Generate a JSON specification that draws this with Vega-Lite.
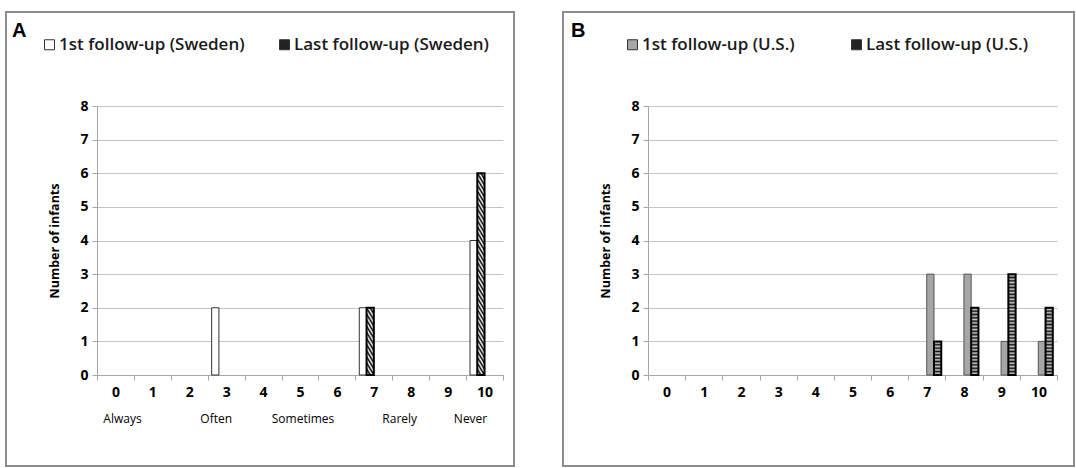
{
"$schema": "https://vega.github.io/schema/vega-lite/v6.json",
"padding": {"left": 5, "top": 11, "right": 0, "bottom": 0},
"background": "white",
"spacing": 47,
"resolve": {"scale": {"fill": "independent"}, "legend": {"fill": "independent"}},
"config": {
  "view": {"stroke": "#8c8c8c", "strokeWidth": 2},
  "axis": {"labelFont": "Open Sans", "titleFont": "Open Sans", "labelColor": "#000", "titleColor": "#000", "domainColor": "#a6a6a6", "tickColor": "#a6a6a6", "gridColor": "#c4c4c4", "tickSize": 5, "labelFontSize": 14, "labelFontWeight": "bold"},
  "legend": {"labelFont": "Open Sans", "labelFontSize": 17, "labelFontWeight": 600, "labelLimit": 400, "labelColor": "#1a1a1a", "symbolType": "square", "symbolSize": 100, "symbolStrokeColor": "#333", "symbolStrokeWidth": 1, "labelOffset": 1, "padding": 0}
},
"datasets": {
  "sweden": [
    {"score": 3, "series": "1st follow-up (Sweden)", "value": 2},
    {"score": 7, "series": "1st follow-up (Sweden)", "value": 2},
    {"score": 10, "series": "1st follow-up (Sweden)", "value": 4},
    {"score": 7, "series": "Last follow-up (Sweden)", "value": 2},
    {"score": 10, "series": "Last follow-up (Sweden)", "value": 6}
  ],
  "us": [
    {"score": 7, "series": "1st follow-up (U.S.)", "value": 3},
    {"score": 8, "series": "1st follow-up (U.S.)", "value": 3},
    {"score": 9, "series": "1st follow-up (U.S.)", "value": 1},
    {"score": 10, "series": "1st follow-up (U.S.)", "value": 1},
    {"score": 7, "series": "Last follow-up (U.S.)", "value": 1},
    {"score": 8, "series": "Last follow-up (U.S.)", "value": 2},
    {"score": 9, "series": "Last follow-up (U.S.)", "value": 3},
    {"score": 10, "series": "Last follow-up (U.S.)", "value": 2}
  ]
},
"hconcat": [
{
  "width": 508, "height": 454,
  "title": {"text": "A", "anchor": "start", "frame": "group", "offset": -29, "dx": 6, "font": "Liberation Sans", "fontSize": 20, "fontWeight": "bold", "color": "#000"},
  "data": {"name": "sweden"},
  "resolve": {"axis": {"x": "independent"}},
  "layer": [
    {
      "mark": {"type": "bar"},
      "encoding": {
        "x": {"field": "score", "type": "ordinal", "scale": {"domain": [0,1,2,3,4,5,6,7,8,9,10], "range": [91, 497], "paddingInner": 0, "paddingOuter": 0},
              "axis": {"orient": "bottom", "title": null, "labelAngle": 0, "labelPadding": 5, "tickBand": "extent", "grid": false, "offset": -91}},
        "xOffset": {"field": "series", "type": "nominal", "scale": {"domain": ["1st follow-up (Sweden)", "Last follow-up (Sweden)"], "paddingInner": 0, "paddingOuter": 0.54}},
        "y": {"field": "value", "type": "quantitative", "scale": {"domain": [0, 8], "range": [363, 94], "nice": false},
              "axis": {"values": [0,1,2,3,4,5,6,7,8], "title": "Number of infants", "titleFontSize": 12.5, "titleFontWeight": "bold", "titlePadding": 18, "labelPadding": 4, "grid": true, "offset": -91}},
        "fill": {"field": "series", "type": "nominal",
          "scale": {"domain": ["1st follow-up (Sweden)", "Last follow-up (Sweden)"], "range": ["#ffffff", "#222222"]},
          "legend": {"orient": "none", "legendX": 35, "legendY": 24, "direction": "horizontal", "title": null, "columnPadding": 31},
          "condition": [
            {"test": "datum.series == 'Last follow-up (Sweden)' && datum.value == 2",
             "value": {"gradient": "linear", "x1": 0, "y1": 1, "x2": 0.2038, "y2": -0.1421, "stops": [
               {"offset":0,"color":"#000"},{"offset":0.0385,"color":"#fff"},{"offset":0.0769,"color":"#000"},{"offset":0.1154,"color":"#fff"},{"offset":0.1538,"color":"#000"},{"offset":0.1923,"color":"#fff"},{"offset":0.2308,"color":"#000"},{"offset":0.2692,"color":"#fff"},{"offset":0.3077,"color":"#000"},{"offset":0.3462,"color":"#fff"},{"offset":0.3846,"color":"#000"},{"offset":0.4231,"color":"#fff"},{"offset":0.4615,"color":"#000"},{"offset":0.5,"color":"#fff"},{"offset":0.5385,"color":"#000"},{"offset":0.5769,"color":"#fff"},{"offset":0.6154,"color":"#000"},{"offset":0.6538,"color":"#fff"},{"offset":0.6923,"color":"#000"},{"offset":0.7308,"color":"#fff"},{"offset":0.7692,"color":"#000"},{"offset":0.8077,"color":"#fff"},{"offset":0.8462,"color":"#000"},{"offset":0.8846,"color":"#fff"},{"offset":0.9231,"color":"#000"},{"offset":0.9615,"color":"#fff"},{"offset":1,"color":"#000"}]}},
            {"test": "datum.series == 'Last follow-up (Sweden)' && datum.value == 6",
             "value": {"gradient": "linear", "x1": 0, "y1": 1, "x2": 0.0628, "y2": -0.0557, "stops": [
               {"offset":0,"color":"#000"},{"offset":0.0139,"color":"#fff"},{"offset":0.0278,"color":"#000"},{"offset":0.0417,"color":"#fff"},{"offset":0.0556,"color":"#000"},{"offset":0.0694,"color":"#fff"},{"offset":0.0833,"color":"#000"},{"offset":0.0972,"color":"#fff"},{"offset":0.1111,"color":"#000"},{"offset":0.125,"color":"#fff"},{"offset":0.1389,"color":"#000"},{"offset":0.1528,"color":"#fff"},{"offset":0.1667,"color":"#000"},{"offset":0.1806,"color":"#fff"},{"offset":0.1944,"color":"#000"},{"offset":0.2083,"color":"#fff"},{"offset":0.2222,"color":"#000"},{"offset":0.2361,"color":"#fff"},{"offset":0.25,"color":"#000"},{"offset":0.2639,"color":"#fff"},{"offset":0.2778,"color":"#000"},{"offset":0.2917,"color":"#fff"},{"offset":0.3056,"color":"#000"},{"offset":0.3194,"color":"#fff"},{"offset":0.3333,"color":"#000"},{"offset":0.3472,"color":"#fff"},{"offset":0.3611,"color":"#000"},{"offset":0.375,"color":"#fff"},{"offset":0.3889,"color":"#000"},{"offset":0.4028,"color":"#fff"},{"offset":0.4167,"color":"#000"},{"offset":0.4306,"color":"#fff"},{"offset":0.4444,"color":"#000"},{"offset":0.4583,"color":"#fff"},{"offset":0.4722,"color":"#000"},{"offset":0.4861,"color":"#fff"},{"offset":0.5,"color":"#000"},{"offset":0.5139,"color":"#fff"},{"offset":0.5278,"color":"#000"},{"offset":0.5417,"color":"#fff"},{"offset":0.5556,"color":"#000"},{"offset":0.5694,"color":"#fff"},{"offset":0.5833,"color":"#000"},{"offset":0.5972,"color":"#fff"},{"offset":0.6111,"color":"#000"},{"offset":0.625,"color":"#fff"},{"offset":0.6389,"color":"#000"},{"offset":0.6528,"color":"#fff"},{"offset":0.6667,"color":"#000"},{"offset":0.6806,"color":"#fff"},{"offset":0.6944,"color":"#000"},{"offset":0.7083,"color":"#fff"},{"offset":0.7222,"color":"#000"},{"offset":0.7361,"color":"#fff"},{"offset":0.75,"color":"#000"},{"offset":0.7639,"color":"#fff"},{"offset":0.7778,"color":"#000"},{"offset":0.7917,"color":"#fff"},{"offset":0.8056,"color":"#000"},{"offset":0.8194,"color":"#fff"},{"offset":0.8333,"color":"#000"},{"offset":0.8472,"color":"#fff"},{"offset":0.8611,"color":"#000"},{"offset":0.875,"color":"#fff"},{"offset":0.8889,"color":"#000"},{"offset":0.9028,"color":"#fff"},{"offset":0.9167,"color":"#000"},{"offset":0.9306,"color":"#fff"},{"offset":0.9444,"color":"#000"},{"offset":0.9583,"color":"#fff"},{"offset":0.9722,"color":"#000"},{"offset":0.9861,"color":"#fff"},{"offset":1,"color":"#000"}]}}
          ]
        },
        "stroke": {"condition": {"test": "datum.series == 'Last follow-up (Sweden)'", "value": "#000"}, "value": "#333"},
        "strokeWidth": {"condition": {"test": "datum.series == 'Last follow-up (Sweden)'", "value": 2}, "value": 1}
      }
    },
    {
      "mark": {"type": "bar", "opacity": 0},
      "encoding": {
        "x": {"field": "score", "type": "ordinal", "scale": {"domain": [0,1,2,3,4,5,6,7,8,9,10], "range": [91, 497], "paddingInner": 0, "paddingOuter": 0},
              "axis": {"orient": "bottom", "title": null, "values": [0,3,5,8,10], "labelExpr": "datum.value == 0 ? 'Always' : datum.value == 3 ? 'Often' : datum.value == 5 ? 'Sometimes' : datum.value == 8 ? 'Rarely' : 'Never'",
                       "domain": false, "ticks": false, "grid": false, "labelAngle": 0, "labelFontSize": 12, "labelFontWeight": "normal", "labelPadding": 38, "offset": -91,
                       "labelOffset": {"condition": [{"test": "datum.value == 0", "value": 7}, {"test": "datum.value == 3", "value": -10}, {"test": "datum.value == 5", "value": 3}, {"test": "datum.value == 8", "value": -11}], "value": -14}}}
      }
    }
  ]
},
{
  "width": 511, "height": 454,
  "title": {"text": "B", "anchor": "start", "frame": "group", "offset": -29, "dx": 8, "font": "Liberation Sans", "fontSize": 20, "fontWeight": "bold", "color": "#000"},
  "data": {"name": "us"},
  "mark": {"type": "bar"},
  "encoding": {
    "x": {"field": "score", "type": "ordinal", "scale": {"domain": [0,1,2,3,4,5,6,7,8,9,10], "range": [85, 494], "paddingInner": 0, "paddingOuter": 0},
          "axis": {"orient": "bottom", "title": null, "labelAngle": 0, "labelPadding": 5, "tickBand": "extent", "grid": false, "offset": -91}},
    "xOffset": {"field": "series", "type": "nominal", "scale": {"domain": ["1st follow-up (U.S.)", "Last follow-up (U.S.)"], "paddingInner": 0, "paddingOuter": 0.54}},
    "y": {"field": "value", "type": "quantitative", "scale": {"domain": [0, 8], "range": [363, 94], "nice": false},
          "axis": {"values": [0,1,2,3,4,5,6,7,8], "title": "Number of infants", "titleFontSize": 12.5, "titleFontWeight": "bold", "titlePadding": 18, "labelPadding": 4, "grid": true, "offset": -85}},
    "fill": {"field": "series", "type": "nominal",
      "scale": {"domain": ["1st follow-up (U.S.)", "Last follow-up (U.S.)"], "range": ["#a6a6a6", "#222222"]},
      "legend": {"orient": "none", "legendX": 61, "legendY": 24, "direction": "horizontal", "title": null, "columnPadding": 53},
      "condition": [
        {"test": "datum.series == 'Last follow-up (U.S.)' && datum.value == 1",
         "value": {"gradient": "linear", "x1": 0, "y1": 0, "x2": 0, "y2": 1, "stops": [
           {"offset":0,"color":"#111"},{"offset":0.05,"color":"#ccc"},{"offset":0.1,"color":"#111"},{"offset":0.15,"color":"#ccc"},{"offset":0.2,"color":"#111"},{"offset":0.25,"color":"#ccc"},{"offset":0.3,"color":"#111"},{"offset":0.35,"color":"#ccc"},{"offset":0.4,"color":"#111"},{"offset":0.45,"color":"#ccc"},{"offset":0.5,"color":"#111"},{"offset":0.55,"color":"#ccc"},{"offset":0.6,"color":"#111"},{"offset":0.65,"color":"#ccc"},{"offset":0.7,"color":"#111"},{"offset":0.75,"color":"#ccc"},{"offset":0.8,"color":"#111"},{"offset":0.85,"color":"#ccc"},{"offset":0.9,"color":"#111"},{"offset":0.95,"color":"#ccc"},{"offset":1,"color":"#111"}]}},
        {"test": "datum.series == 'Last follow-up (U.S.)' && datum.value == 2",
         "value": {"gradient": "linear", "x1": 0, "y1": 0, "x2": 0, "y2": 1, "stops": [
           {"offset":0,"color":"#111"},{"offset":0.025,"color":"#ccc"},{"offset":0.05,"color":"#111"},{"offset":0.075,"color":"#ccc"},{"offset":0.1,"color":"#111"},{"offset":0.125,"color":"#ccc"},{"offset":0.15,"color":"#111"},{"offset":0.175,"color":"#ccc"},{"offset":0.2,"color":"#111"},{"offset":0.225,"color":"#ccc"},{"offset":0.25,"color":"#111"},{"offset":0.275,"color":"#ccc"},{"offset":0.3,"color":"#111"},{"offset":0.325,"color":"#ccc"},{"offset":0.35,"color":"#111"},{"offset":0.375,"color":"#ccc"},{"offset":0.4,"color":"#111"},{"offset":0.425,"color":"#ccc"},{"offset":0.45,"color":"#111"},{"offset":0.475,"color":"#ccc"},{"offset":0.5,"color":"#111"},{"offset":0.525,"color":"#ccc"},{"offset":0.55,"color":"#111"},{"offset":0.575,"color":"#ccc"},{"offset":0.6,"color":"#111"},{"offset":0.625,"color":"#ccc"},{"offset":0.65,"color":"#111"},{"offset":0.675,"color":"#ccc"},{"offset":0.7,"color":"#111"},{"offset":0.725,"color":"#ccc"},{"offset":0.75,"color":"#111"},{"offset":0.775,"color":"#ccc"},{"offset":0.8,"color":"#111"},{"offset":0.825,"color":"#ccc"},{"offset":0.85,"color":"#111"},{"offset":0.875,"color":"#ccc"},{"offset":0.9,"color":"#111"},{"offset":0.925,"color":"#ccc"},{"offset":0.95,"color":"#111"},{"offset":0.975,"color":"#ccc"},{"offset":1,"color":"#111"}]}},
        {"test": "datum.series == 'Last follow-up (U.S.)' && datum.value == 3",
         "value": {"gradient": "linear", "x1": 0, "y1": 0, "x2": 0, "y2": 1, "stops": [
           {"offset":0,"color":"#111"},{"offset":0.0167,"color":"#ccc"},{"offset":0.0333,"color":"#111"},{"offset":0.05,"color":"#ccc"},{"offset":0.0667,"color":"#111"},{"offset":0.0833,"color":"#ccc"},{"offset":0.1,"color":"#111"},{"offset":0.1167,"color":"#ccc"},{"offset":0.1333,"color":"#111"},{"offset":0.15,"color":"#ccc"},{"offset":0.1667,"color":"#111"},{"offset":0.1833,"color":"#ccc"},{"offset":0.2,"color":"#111"},{"offset":0.2167,"color":"#ccc"},{"offset":0.2333,"color":"#111"},{"offset":0.25,"color":"#ccc"},{"offset":0.2667,"color":"#111"},{"offset":0.2833,"color":"#ccc"},{"offset":0.3,"color":"#111"},{"offset":0.3167,"color":"#ccc"},{"offset":0.3333,"color":"#111"},{"offset":0.35,"color":"#ccc"},{"offset":0.3667,"color":"#111"},{"offset":0.3833,"color":"#ccc"},{"offset":0.4,"color":"#111"},{"offset":0.4167,"color":"#ccc"},{"offset":0.4333,"color":"#111"},{"offset":0.45,"color":"#ccc"},{"offset":0.4667,"color":"#111"},{"offset":0.4833,"color":"#ccc"},{"offset":0.5,"color":"#111"},{"offset":0.5167,"color":"#ccc"},{"offset":0.5333,"color":"#111"},{"offset":0.55,"color":"#ccc"},{"offset":0.5667,"color":"#111"},{"offset":0.5833,"color":"#ccc"},{"offset":0.6,"color":"#111"},{"offset":0.6167,"color":"#ccc"},{"offset":0.6333,"color":"#111"},{"offset":0.65,"color":"#ccc"},{"offset":0.6667,"color":"#111"},{"offset":0.6833,"color":"#ccc"},{"offset":0.7,"color":"#111"},{"offset":0.7167,"color":"#ccc"},{"offset":0.7333,"color":"#111"},{"offset":0.75,"color":"#ccc"},{"offset":0.7667,"color":"#111"},{"offset":0.7833,"color":"#ccc"},{"offset":0.8,"color":"#111"},{"offset":0.8167,"color":"#ccc"},{"offset":0.8333,"color":"#111"},{"offset":0.85,"color":"#ccc"},{"offset":0.8667,"color":"#111"},{"offset":0.8833,"color":"#ccc"},{"offset":0.9,"color":"#111"},{"offset":0.9167,"color":"#ccc"},{"offset":0.9333,"color":"#111"},{"offset":0.95,"color":"#ccc"},{"offset":0.9667,"color":"#111"},{"offset":0.9833,"color":"#ccc"},{"offset":1,"color":"#111"}]}}
      ]
    },
    "stroke": {"condition": {"test": "datum.series == 'Last follow-up (U.S.)'", "value": "#000"}, "value": "#555"},
    "strokeWidth": {"condition": {"test": "datum.series == 'Last follow-up (U.S.)'", "value": 2}, "value": 1}
  }
}
]
}
